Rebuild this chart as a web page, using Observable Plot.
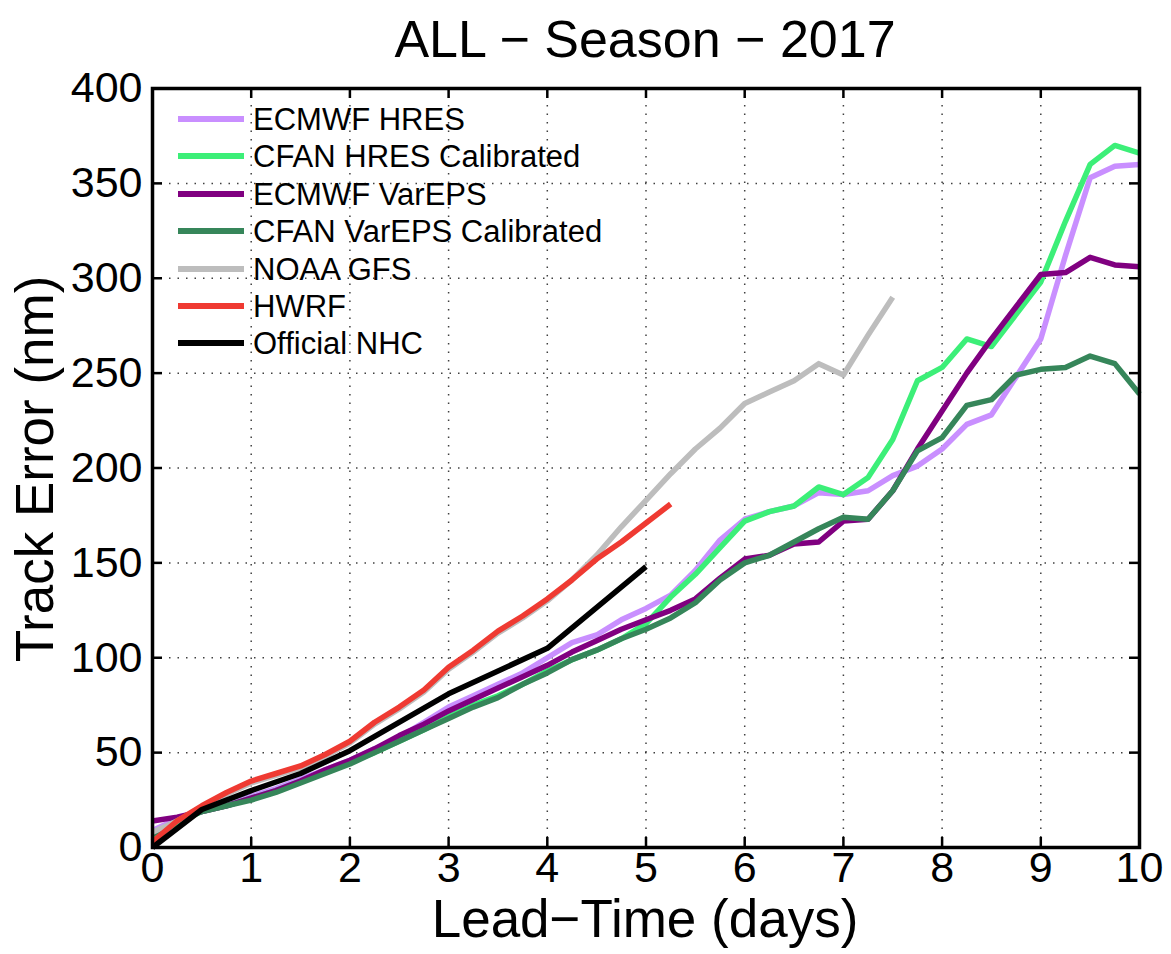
<!DOCTYPE html>
<html>
<head>
<meta charset="utf-8">
<script src="https://cdn.jsdelivr.net/npm/d3@7"></script>
<script src="https://cdn.jsdelivr.net/npm/@observablehq/plot@0.6"></script>
<style>
  body { margin: 0; background: #fff; font-family: "Liberation Sans", Arial, Helvetica, sans-serif; }
  #wrap { position: relative; width: 1171px; height: 954px; overflow: hidden; background: #fff; }
  #chart { position: absolute; left: 0; top: 0; }
  .lbl { position: absolute; white-space: nowrap; line-height: 1; color: #000; }
  #title { left: 645px; top: 13px; font-size: 52px; transform: translateX(-50%); }
  #xlabel { left: 645px; top: 898px; font-size: 53px; line-height: 0.78; transform: translateX(-50%); }
  #ylabel { left: 34px; top: 469px; font-size: 53px; transform: translate(-50%, -50%) rotate(-90deg); }
  #legend { position: absolute; left: 0; top: 0; }
  .sw { position: absolute; left: 178px; width: 66px; height: 6px; }
  .tx { position: absolute; left: 253px; font-size: 31px; line-height: 1; white-space: nowrap; }
</style>
</head>
<body>
<div id="wrap">
  <div id="chart"></div>
  <div id="legend"></div>
  <div id="title" class="lbl">ALL − Season − 2017</div>
  <div id="xlabel" class="lbl">Lead−Time (days)</div>
  <div id="ylabel" class="lbl">Track Error (nm)</div>
</div>
<script>
// ---- data (lead time in days, track error in nm) ----
const days6h = [0,0.25,0.5,0.75,1,1.25,1.5,1.75,2,2.25,2.5,2.75,3,3.25,3.5,3.75,4,4.25,4.5,4.75,5,
                5.25,5.5,5.75,6,6.25,6.5,6.75,7,7.25,7.5,7.75,8,8.25,8.5,8.75,9,9.25,9.5,9.75,10];
const ecmwfHres = [9,15,20,23,27,31,36,41,46,52,58,66,74,80,86,92,100,108,112,120,126,
                   133,146,162,173,177,180,187,186,188,196,201,210,223,228,248,268,312,353,359,360];
const cfanHres = [6,13,19,22,26,30,35,40,45,50,56,62,69,75,80,86,93,99,104,110,118,
                  132,144,158,172,177,180,190,186,195,215,246,253,268,264,281,298,330,360,370,366];
const ecmwfVareps = [14,16,19,22,26,30,35,41,46,52,59,65,72,78,84,90,96,103,109,115,120,
                     125,131,142,152,154,160,161,172,173,188,210,230,250,268,285,302,303,311,307,306];
const cfanVareps = [7,14,19,22,25,29,34,39,44,50,56,62,68,74,79,86,92,99,104,110,115,
                    121,129,141,150,154,161,168,174,173,188,209,216,233,236,249,252,253,259,255,239];
const gfsDays = [0,0.25,0.5,0.75,1,1.25,1.5,1.75,2,2.25,2.5,2.75,3,3.25,3.5,3.75,4,4.25,4.5,4.75,5,
                 5.25,5.5,5.75,6,6.25,6.5,6.75,7,7.25,7.5];
const gfs = [8,14,21,28,34,38,42,48,55,65,73,82,94,103,113,121,130,141,154,169,183,
             197,210,221,234,240,246,255,249,270,290];
const hwrfDays = [0,0.25,0.5,0.75,1,1.25,1.5,1.75,2,2.25,2.5,2.75,3,3.25,3.5,3.75,4,4.25,4.5,4.75,5,5.25];
const hwrf = [3,14,22,29,35,39,43,49,56,66,74,83,95,104,114,122,131,141,152,161,171,181];
const nhcDays = [0,0.5,1,1.5,2,3,4,5];
const nhc = [0,20,30,39,51,81,105,148];

const seriesNames = ["ECMWF HRES","CFAN HRES Calibrated","ECMWF VarEPS","CFAN VarEPS Calibrated","NOAA GFS","HWRF","Official NHC"];
const seriesColors = ["#c98fff","#3cef78","#800080","#36865a","#bdbdbd","#ef3a32","#000000"];
const seriesX = [days6h, days6h, days6h, days6h, gfsDays, hwrfDays, nhcDays];
const seriesY = [ecmwfHres, cfanHres, ecmwfVareps, cfanVareps, gfs, hwrf, nhc];

const xTicks = [0,1,2,3,4,5,6,7,8,9,10];
const yTicks = [0,50,100,150,200,250,300,350,400];

// ---- build ----
const W = 1171, H = 954, mL = 152, mR = 32, mT = 88, mB = 107;
const plotW = W - mL - mR, plotH = H - mT - mB, tickLen = 10;

const rows = seriesNames.map((name, i) =>
  seriesX[i].map((d, j) => ({series: name, day: d, err: seriesY[i][j]})));

const tickStyle = {stroke: "#000", strokeWidth: 2.5};

const chart = Plot.plot({
  width: W,
  height: H,
  marginLeft: mL,
  marginRight: mR,
  marginTop: mT,
  marginBottom: mB,
  style: {fontFamily: '"Liberation Sans", Arial, Helvetica, sans-serif', fontSize: "43px", color: "#000", background: "transparent", overflow: "visible"},
  x: {domain: [0, 10]},
  y: {domain: [0, 400]},
  marks: [
    Plot.gridX(xTicks.slice(1, -1), {stroke: "#000", strokeOpacity: 0.75, strokeWidth: 1.5, strokeDasharray: "1.5,7"}),
    Plot.gridY(yTicks.slice(1, -1), {stroke: "#000", strokeOpacity: 0.75, strokeWidth: 1.5, strokeDasharray: "1.5,7"}),
    ...rows.map((r, i) => Plot.line(r, {x: "day", y: "err", stroke: seriesColors[i], strokeWidth: 5.5, strokeLinejoin: "round", strokeLinecap: "butt"})),
    // inward ticks on all four sides (MATLAB style)
    Plot.tickX(xTicks, {x: d => d, insetTop: plotH - tickLen, ...tickStyle}),
    Plot.tickX(xTicks, {x: d => d, insetBottom: plotH - tickLen, ...tickStyle}),
    Plot.tickY(yTicks, {y: d => d, insetRight: plotW - tickLen, ...tickStyle}),
    Plot.tickY(yTicks, {y: d => d, insetLeft: plotW - tickLen, ...tickStyle}),
    Plot.axisX(xTicks, {anchor: "bottom", tickSize: 0, tickPadding: 4, fontSize: 43, label: null}),
    Plot.axisY(yTicks, {anchor: "left", tickSize: 0, tickPadding: 10, fontSize: 43, label: null}),
    Plot.frame({stroke: "#000", strokeWidth: 3.5})
  ]
});
document.getElementById("chart").appendChild(chart);

// legend (transparent, inside the plot, top-left)
const legend = d3.select("#legend");
const rowTop = 119, rowStep = 37.4;
seriesNames.forEach((name, i) => {
  const cy = rowTop + i * rowStep;
  legend.append("div").attr("class", "sw")
    .style("top", (cy - 3) + "px").style("background", seriesColors[i]);
  legend.append("div").attr("class", "tx")
    .style("top", (cy - 15.1) + "px").text(name);
});
</script>
</body>
</html>
